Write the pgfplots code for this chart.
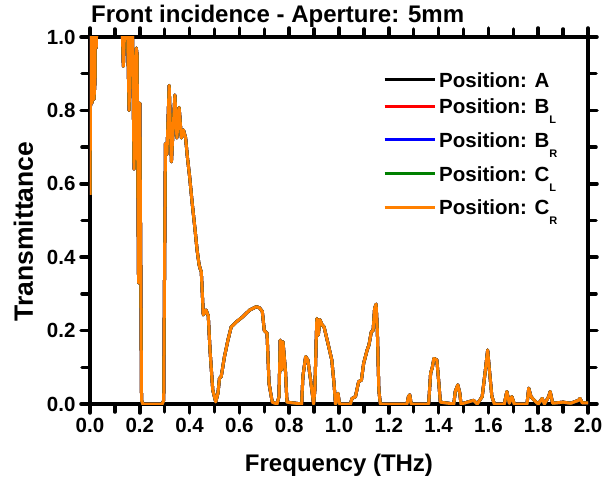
\documentclass[border=0pt]{standalone}
\usepackage{pgfplots}
\usepackage{pgfplotstable}
\pgfplotsset{compat=1.18}
\usepackage{fontspec}
\setmainfont{Liberation Sans}

\definecolor{grn}{RGB}{0,128,0}
\definecolor{orng}{RGB}{255,128,0}

% first legend row sits closer to the second one
\pgfplotsset{shiftlegend/.style={legend image code/.code={\draw[##1, line width=3pt] (0pt,-7pt) -- (50pt,-7pt);}}}

% transmittance vs frequency (THz)
\pgfplotstableread{
f T
0.000 0.57
0.004 1.05
0.008 0.82
0.012 1.05
0.016 0.83
0.020 0.88
0.022 1.05
0.025 0.97
0.028 1.05
0.050 1.10
0.080 1.10
0.110 1.10
0.128 1.05
0.134 0.92
0.141 1.05
0.150 1.05
0.157 0.80
0.164 1.05
0.170 1.05
0.177 0.64
0.186 0.97
0.189 0.95
0.195 0.33
0.200 0.82
0.207 0.01
0.212 0.0
0.290 0.0
0.296 0.01
0.300 0.42
0.303 0.71
0.309 0.68
0.318 0.868
0.327 0.66
0.341 0.842
0.349 0.725
0.358 0.808
0.367 0.725
0.375 0.747
0.384 0.725
0.391 0.674
0.400 0.62
0.410 0.55
0.422 0.474
0.430 0.42
0.438 0.38
0.442 0.37
0.447 0.36
0.455 0.243
0.466 0.256
0.475 0.24
0.482 0.147
0.493 0.038
0.505 0.006
0.514 0.03
0.520 0.07
0.527 0.075
0.540 0.129
0.554 0.174
0.567 0.21
0.588 0.224
0.614 0.238
0.641 0.256
0.668 0.265
0.681 0.262
0.692 0.252
0.700 0.20
0.711 0.193
0.719 0.056
0.732 0.005
0.751 0.0
0.759 0.02
0.764 0.174
0.770 0.093
0.775 0.17
0.785 0.09
0.791 0.005
0.850 0.0
0.855 0.075
0.866 0.129
0.875 0.12
0.886 0.065
0.898 0.0
0.903 0.038
0.911 0.233
0.917 0.188
0.923 0.23
0.931 0.217
0.940 0.21
0.954 0.17
0.971 0.12
0.980 0.056
0.986 0.0
0.996 0.029
1.002 0.0
1.046 0.0
1.052 0.015
1.066 0.02
1.079 0.061
1.090 0.065
1.099 0.111
1.113 0.147
1.120 0.16
1.130 0.197
1.137 0.20
1.143 0.26
1.149 0.272
1.154 0.20
1.160 0.038
1.166 0.0
1.273 0.0
1.279 0.02
1.284 0.025
1.290 0.0
1.360 0.0
1.368 0.084
1.375 0.10
1.381 0.124
1.393 0.12
1.400 0.065
1.407 0.005
1.461 0.0
1.467 0.034
1.477 0.052
1.485 0.03
1.490 0.0
1.541 0.01
1.555 0.0
1.575 0.02
1.588 0.093
1.597 0.147
1.604 0.093
1.614 0.02
1.624 0.0
1.664 0.0
1.674 0.034
1.684 0.002
1.694 0.02
1.704 0.0
1.755 0.0
1.762 0.043
1.771 0.02
1.784 0.01
1.800 0.0
1.816 0.015
1.825 0.0
1.842 0.02
1.848 0.034
1.858 0.002
1.900 0.005
1.930 0.002
1.962 0.01
1.968 0.015
1.977 0.003
2.000 0.003
}\trans

\newcommand{\sub}[1]{\raisebox{-10pt}{\fontsize{11}{11}\selectfont #1}}

\begin{document}
\begin{tikzpicture}
  \begin{axis}[
    name=ax,
    scale only axis,
    width=498pt, height=367pt,
    xmin=0, xmax=2, ymin=0, ymax=1,
    xtick={0,0.2,0.4,0.6,0.8,1.0,1.2,1.4,1.6,1.8,2.0},
    ytick={0,0.2,0.4,0.6,0.8,1.0},
    minor x tick num=1, minor y tick num=1,
    tick pos=both,
    tick align=outside,
    major tick length=9pt, minor tick length=8pt,
    tick style={black, line width=3.5pt, line cap=round},
    axis line style={line width=4.5pt},
    every outer x axis line/.append style={line width=4.5pt},
    every outer y axis line/.append style={line width=4.5pt},
    line width=4.5pt,
    /pgf/number format/assume math mode=true,
    /pgf/number format/fixed,
    /pgf/number format/fixed zerofill,
    /pgf/number format/precision=1,
    ticklabel style={font=\fontsize{20.5}{24}\selectfont\bfseries},
    xlabel={Frequency (THz)},
    ylabel={Transmittance},
    xlabel style={at={(axis description cs:0.5,-0.1845)}, anchor=base,
      font=\fontsize{24}{28}\selectfont\bfseries},
    ylabel style={at={(axis description cs:-0.1145,0.47)}, anchor=base,
      font=\fontsize{26.5}{30}\selectfont\bfseries},
    title={Front incidence - Aperture: 5mm},
    title style={at={(axis description cs:0,1)}, anchor=base west,
      xshift=-1pt, yshift=8.7pt, inner sep=0pt,
      font=\fontsize{24}{28}\selectfont\bfseries},
    legend style={draw=none, fill=none, inner sep=0pt,
      at={(axis description cs:0.5843,0.946)}, anchor=north west,
      font=\fontsize{20.5}{24}\selectfont\bfseries,
      nodes={inner sep=0pt, text height=21pt, text depth=6pt},
      row sep=6.7pt, column sep=3pt},
    legend cell align=left,
    legend image code/.code={\draw[#1, line width=3pt] (0pt,0pt) -- (50pt,0pt);},
    every axis plot/.append style={line width=3pt, line join=round, no markers},
  ]
    \addplot[black, shiftlegend] table {\trans};
    \addlegendentry{\raisebox{-7pt}{Position: A}}
    \addplot[red] table {\trans};
    \addlegendentry{Position: B\sub{L}}
    \addplot[blue] table {\trans};
    \addlegendentry{Position: B\sub{R}}
    \addplot[grn] table {\trans};
    \addlegendentry{Position: C\sub{L}}
    \addplot[orng] table {\trans};
    \addlegendentry{Position: C\sub{R}}
  \end{axis}
  \pgfresetboundingbox
  \path ([shift={(-90pt,-72pt)}]ax.south west) rectangle ([shift={(16pt,37pt)}]ax.north east);
\end{tikzpicture}
\end{document}
